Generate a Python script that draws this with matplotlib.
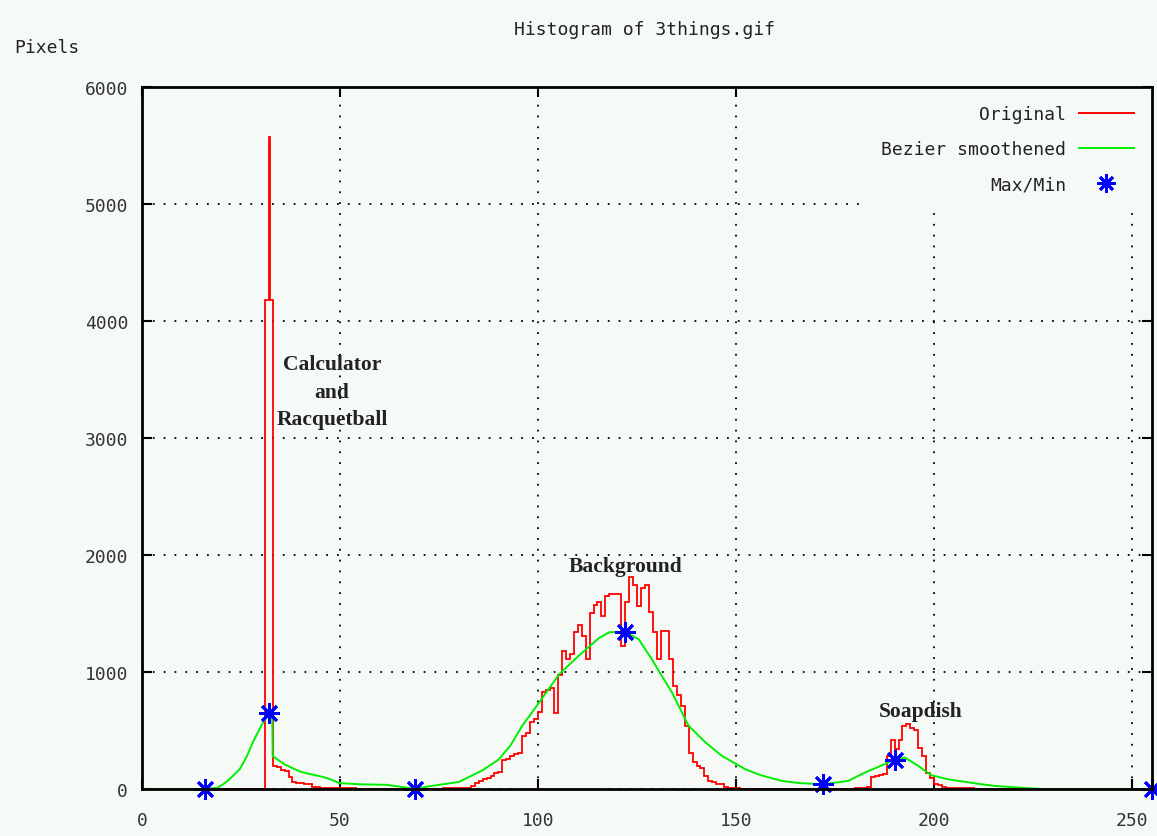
import numpy as np
import matplotlib
matplotlib.use("Agg")
import matplotlib.pyplot as plt
from matplotlib.lines import Line2D

# histogram counts, bins 0..255
orig_counts = (
    [0] * 31
    + [4180, 4180]
    + [200, 190, 160, 150, 100, 60, 55, 50, 45, 40, 20, 15, 10, 10, 8, 8, 5]
    + [5, 5, 4, 4, 3, 3, 3, 2, 2, 2, 2, 2, 2, 2, 2, 2, 2, 2, 2, 2,
       2, 2, 2, 3, 3, 3, 4, 4, 5, 5]
    + [5, 8, 12, 25, 50, 70, 85, 90, 110, 140,
       145, 250, 260, 280, 300, 310, 450, 480, 570, 600,
       660, 830, 850, 860, 650, 970, 1180, 1110, 1150, 1340,
       1400, 1310, 1110, 1500, 1570, 1600, 1480, 1650, 1670, 1670,
       1670, 1220, 1600, 1810, 1740, 1560, 1720, 1740, 1510, 1340,
       1110, 1350, 1350, 1110, 880, 800, 710, 540, 310, 230,
       200, 180, 110, 70, 60, 40, 40, 20, 10, 5]
    + [4, 3, 3, 3, 2, 2, 2, 2, 2, 2, 2, 2, 2, 2, 2, 2, 2, 2, 2, 2,
       2, 2, 2, 2, 2, 2, 2, 2, 3, 3, 4, 6, 10]
    + [20, 100, 110, 120, 130, 280, 420, 340, 420, 540,
       555, 520, 500, 350, 280, 140, 90, 40, 30, 15]
    + [10, 8, 6, 5, 5, 4, 4, 3, 3, 3, 3, 3, 2, 2, 2, 2, 2, 2, 2, 2, 2, 2, 1, 1]
    + [0] * 29
)
# the narrow spike on top of bin 32
spike_edges = [32.0, 32.2]
spike_top = 5570
spike_base = 4180

# bezier smoothed curve
bez_x = [0, 16, 19, 20.5, 22, 24.7, 26.5, 28, 29.5, 30.6, 32, 32.9, 33, 36, 39.8, 42,
         44.8, 47, 49.9, 55, 62, 66, 69, 72, 76, 80, 83, 86, 90, 93, 96, 100.3, 105.3,
         110.3, 115.4, 118, 122, 125.4, 128.7, 131, 133.8, 138, 142.2, 146.4, 152.3,
         156, 161.5, 166, 172, 178.3, 182.5, 186, 188.4, 190, 192.6, 196, 199.3, 203.5,
         208, 211.9, 215.3, 220, 227, 255]
bez_y = [0, 0, 10, 40, 80, 170, 280, 400, 500, 570, 650, 600, 280, 210, 150, 130,
         110, 90, 50, 40, 35, 15, 0, 20, 40, 60, 110, 160, 250, 370, 540, 740, 980,
         1140, 1290, 1340, 1340, 1280, 1110, 980, 825, 540, 400, 283, 169,
         120, 69, 50, 40, 69, 140, 190, 226, 250, 269, 197, 117, 83,
         60, 40, 26, 15, 0, 0]

# max / min points
ext_x = [16, 32, 69, 122, 172, 190, 255]
ext_y = [0, 650, 0, 1340, 40, 250, 0]

bg = '#f6faf7'
mono = 'DejaVu Sans Mono'

fig = plt.figure(figsize=(11.57, 8.37), dpi=100, facecolor=bg)
ax = fig.add_axes([0.1227, 0.0562, 0.873, 0.8387], facecolor=bg)

edges = np.arange(len(orig_counts) + 1)
ax.stairs(orig_counts, edges, color='#ff0000', linewidth=1.3, baseline=0, clip_on=False, zorder=2)
ax.stairs([spike_top], spike_edges, color='#ff0000', linewidth=1.3, baseline=spike_base, zorder=2)
ax.plot(bez_x, bez_y, color='#00ee00', linewidth=1.4, clip_on=False, zorder=2.1)
ax.plot(ext_x, ext_y, linestyle='none', marker=(8, 2, 0), markersize=15, mew=2,
        color='#0000ff', clip_on=False, zorder=3)

ax.set_xlim(0, 255)
ax.set_ylim(0, 6000)
ax.set_xticks([0, 50, 100, 150, 200, 250])
ax.set_yticks([0, 1000, 2000, 3000, 4000, 5000, 6000])
ax.grid(True, color='black', linestyle=(0, (1, 5)), linewidth=1.3)
ax.set_axisbelow(True)
ax.tick_params(direction='in', top=True, right=True, length=7, width=1.5,
               labelsize=13, colors='black')
ax.tick_params(axis='x', pad=16)
ax.tick_params(axis='y', pad=10)
for lab in ax.get_xticklabels() + ax.get_yticklabels():
    lab.set_family(mono)
    lab.set_color('#333333')
for sp in ax.spines.values():
    sp.set_linewidth(2)
    sp.set_zorder(6)

handles = [Line2D([], [], color='#ff0000', linewidth=1.4),
           Line2D([], [], color='#00ee00', linewidth=1.4),
           Line2D([], [], linestyle='none', marker=(8, 2, 0), markersize=13, mew=2, color='#0000ff')]
leg = ax.legend(handles, ['Original', 'Bezier smoothened', 'Max/Min'],
                loc='upper right', bbox_to_anchor=(1, 1), borderaxespad=0,
                markerfirst=False, prop={'family': mono, 'size': 13},
                handlelength=3.05, handletextpad=0.7, labelspacing=0.95,
                borderpad=1.0, fancybox=False, framealpha=1)
leg.get_frame().set_facecolor(bg)
leg.get_frame().set_edgecolor('none')
for t in leg.get_texts():
    t.set_color('#222222')
leg.set_zorder(5)

ann = {'family': 'Liberation Serif', 'size': 15.5, 'weight': 'bold', 'color': '#222222'}
ax.text(48, 3396, 'Calculator\nand\nRacquetball', ha='center', va='center',
        multialignment='center', linespacing=1.5, **ann)
ax.text(122.2, 1907, 'Background', ha='center', va='center', **ann)
ax.text(196.5, 665, 'Soapdish', ha='center', va='center', **ann)

fig.text(645 / 1157, 1 - 30 / 837, 'Histogram of 3things.gif', ha='center', va='center',
         family=mono, size=13, color='#222222')
fig.text(14 / 1157, 1 - 48 / 837, 'Pixels', ha='left', va='center',
         family=mono, size=13, color='#222222')

fig.savefig('out.png', dpi=100, facecolor=bg)
